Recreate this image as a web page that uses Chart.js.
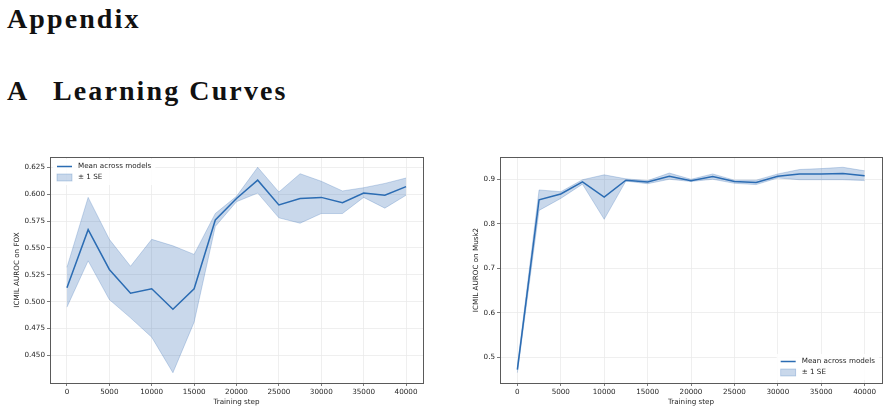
<!DOCTYPE html>
<html lang="en">
<head>
    <meta charset="UTF-8">
    <title>Appendix - Learning Curves</title>
    <script src="https://cdn.jsdelivr.net/npm/chart.js"></script>
    <style>
        html, body { margin: 0; padding: 0; background: #fff; }
        body { width: 889px; height: 413px; position: relative; overflow: hidden; }
        .heading {
            position: absolute;
            font-family: "Liberation Serif", serif;
            font-weight: bold;
            font-size: 28px;
            line-height: 28px;
            letter-spacing: 2.1px;
            color: #111;
            white-space: nowrap;
        }
        canvas { position: absolute; }
        #foxChart { left: 0; top: 150px; }
        #muskChart { left: 445px; top: 150px; }
    </style>
</head>
<body>
    <!-- Headings -->
    <div class="heading" style="left:7px; top:5px;">Appendix</div>
    <div class="heading" style="left:7px; top:77px;">A</div>
    <div class="heading" style="left:53px; top:77px;">Learning Curves</div>

    <canvas id="foxChart" width="440" height="263"></canvas>
    <canvas id="muskChart" width="444" height="263"></canvas>

    <script>
        // Shared x data
        const steps = [0, 2500, 5000, 7500, 10000, 12500, 15000, 17500, 20000,
                       22500, 25000, 27500, 30000, 32500, 35000, 37500, 40000];
        const xTicks = [0, 5000, 10000, 15000, 20000, 25000, 30000, 35000, 40000];
        const legendLabels = ['Mean across models', '± 1 SE'];

        // FOX
        const foxMean  = [0.513, 0.567, 0.530, 0.508, 0.512, 0.493, 0.512, 0.576, 0.596,
                          0.613, 0.590, 0.596, 0.597, 0.592, 0.601, 0.599, 0.607];
        const foxUpper = [0.532, 0.597, 0.558, 0.533, 0.558, 0.552, 0.544, 0.582, 0.598,
                          0.625, 0.602, 0.619, 0.612, 0.603, 0.606, 0.610, 0.615];
        const foxLower = [0.495, 0.538, 0.502, 0.485, 0.467, 0.434, 0.481, 0.570, 0.593,
                          0.601, 0.578, 0.573, 0.582, 0.582, 0.597, 0.587, 0.599];
        const foxYTicks = [0.450, 0.475, 0.500, 0.525, 0.550, 0.575, 0.600, 0.625];

        // Musk2
        const muskMean  = [0.472, 0.854, 0.867, 0.894, 0.860, 0.898, 0.894, 0.907, 0.897,
                           0.906, 0.895, 0.893, 0.907, 0.912, 0.912, 0.913, 0.908];
        const muskUpper = [0.479, 0.876, 0.872, 0.899, 0.910, 0.901, 0.897, 0.914, 0.900,
                           0.912, 0.898, 0.898, 0.912, 0.922, 0.924, 0.927, 0.919];
        const muskLower = [0.465, 0.830, 0.857, 0.889, 0.810, 0.896, 0.890, 0.900, 0.895,
                           0.900, 0.891, 0.888, 0.903, 0.899, 0.899, 0.899, 0.897];
        const muskYTicks = [0.5, 0.6, 0.7, 0.8, 0.9];

        const lineColor = '#2b6cb3';
        const bandColor = 'rgba(40, 100, 175, 0.25)';
        const bandEdge = 'rgba(40, 100, 175, 0.30)';

        Chart.defaults.font.family = '"DejaVu Sans", sans-serif';
        Chart.defaults.font.size = 7.2;
        Chart.defaults.color = '#262626';

        const toPts = (ys) => ys.map((y, i) => ({ x: steps[i], y: y }));

        // box around the plot area, like matplotlib spines
        const framePlugin = {
            id: 'frame',
            afterDatasetsDraw(chart) {
                const a = chart.chartArea, ctx = chart.ctx;
                ctx.save();
                ctx.strokeStyle = '#5a5a5a';
                ctx.lineWidth = 1;
                ctx.strokeRect(Math.round(a.left) + 0.5, Math.round(a.top) + 0.5,
                               Math.round(a.right - a.left), Math.round(a.bottom - a.top));
                ctx.restore();
            }
        };

        // matplotlib-style legend drawn inside the plot area
        const innerLegend = {
            id: 'innerLegend',
            afterDraw(chart, args, opts) {
                const a = chart.chartArea, ctx = chart.ctx;
                const font = Chart.defaults.font;
                ctx.save();
                ctx.font = `${font.size}px ${font.family}`;
                const textW = Math.max(...legendLabels.map(t => ctx.measureText(t).width));
                const pad = 4, sample = 15, gap = 6, rowH = 11;
                const boxW = pad + sample + gap + textW + pad;
                const boxH = rowH * 2 + 4;
                let x0, y0;
                if (opts.corner === 'br') {
                    x0 = a.right - 3 - boxW;
                    y0 = a.bottom - 3 - boxH;
                } else {
                    x0 = a.left + 3;
                    y0 = a.top + 2;
                }
                ctx.fillStyle = 'rgba(255,255,255,0.85)';
                ctx.fillRect(x0, y0, boxW, boxH);
                const r1 = y0 + 2 + rowH / 2, r2 = r1 + rowH;
                const sx = x0 + pad;
                // mean line sample
                ctx.strokeStyle = lineColor;
                ctx.lineWidth = 1.5;
                ctx.beginPath();
                ctx.moveTo(sx, r1);
                ctx.lineTo(sx + sample, r1);
                ctx.stroke();
                // band patch sample
                ctx.fillStyle = bandColor;
                ctx.fillRect(sx, r2 - 3.5, sample, 7);
                ctx.strokeStyle = bandEdge;
                ctx.lineWidth = 0.8;
                ctx.strokeRect(sx, r2 - 3.5, sample, 7);
                ctx.fillStyle = '#262626';
                ctx.textBaseline = 'middle';
                ctx.fillText(legendLabels[0], sx + sample + gap, r1);
                ctx.fillText(legendLabels[1], sx + sample + gap, r2);
                ctx.restore();
            }
        };

        function makeChart(id, mean, upper, lower, yTicks, yDigits, yTitle, geom) {
            const lo = Math.min(...lower), hi = Math.max(...upper);
            const margin = (hi - lo) * 0.05;
            return new Chart(document.getElementById(id), {
                type: 'line',
                data: {
                    datasets: [
                        {
                            label: legendLabels[0],
                            data: toPts(mean),
                            borderColor: lineColor,
                            borderWidth: 1.5,
                            pointRadius: 0,
                            fill: false,
                            order: 0
                        },
                        {
                            label: legendLabels[1],
                            data: toPts(upper),
                            borderColor: bandEdge,
                            borderWidth: 0.8,
                            backgroundColor: bandColor,
                            pointRadius: 0,
                            fill: '+1',
                            order: 1
                        },
                        {
                            label: 'lower',
                            data: toPts(lower),
                            borderColor: bandEdge,
                            borderWidth: 0.8,
                            pointRadius: 0,
                            fill: false,
                            order: 1
                        }
                    ]
                },
                options: {
                    responsive: false,
                    animation: false,
                    devicePixelRatio: 1,
                    layout: { padding: { left: 0, top: geom.top, right: geom.right, bottom: 0 } },
                    plugins: {
                        legend: { display: false },
                        tooltip: { enabled: false },
                        innerLegend: { corner: geom.corner }
                    },
                    scales: {
                        x: {
                            type: 'linear',
                            min: -2000,
                            max: 42000,
                            afterBuildTicks: (s) => { s.ticks = xTicks.map(v => ({ value: v })); },
                            afterFit: (s) => { s.height = 30; },
                            ticks: { padding: 2, maxRotation: 0, callback: (v) => String(v) },
                            grid: { color: '#ebebeb', lineWidth: 0.8, tickColor: '#5a5a5a', tickLength: 3 },
                            border: { display: false },
                            title: { display: true, text: 'Training step', padding: { top: 0, bottom: 6.8 } }
                        },
                        y: {
                            min: lo - margin,
                            max: hi + margin,
                            afterBuildTicks: (s) => { s.ticks = yTicks.map(v => ({ value: v })); },
                            afterFit: (s) => { s.width = geom.yWidth; },
                            ticks: { padding: 2, callback: (v) => v.toFixed(yDigits) },
                            grid: { color: '#ebebeb', lineWidth: 0.8, tickColor: '#5a5a5a', tickLength: 3 },
                            border: { display: false },
                            title: { display: true, text: yTitle, padding: { top: geom.titlePad, bottom: 0 } }
                        }
                    }
                },
                plugins: [framePlugin, innerLegend]
            });
        }

        makeChart('foxChart', foxMean, foxUpper, foxLower, foxYTicks, 3, 'ICMIL AUROC on FOX',
                  { top: 7, right: 17, yWidth: 50, titlePad: 13, corner: 'tl' });
        makeChart('muskChart', muskMean, muskUpper, muskLower, muskYTicks, 1, 'ICMIL AUROC on Musk2',
                  { top: 7, right: 7, yWidth: 55, titlePad: 26.5, corner: 'br' });
    </script>
</body>
</html>
